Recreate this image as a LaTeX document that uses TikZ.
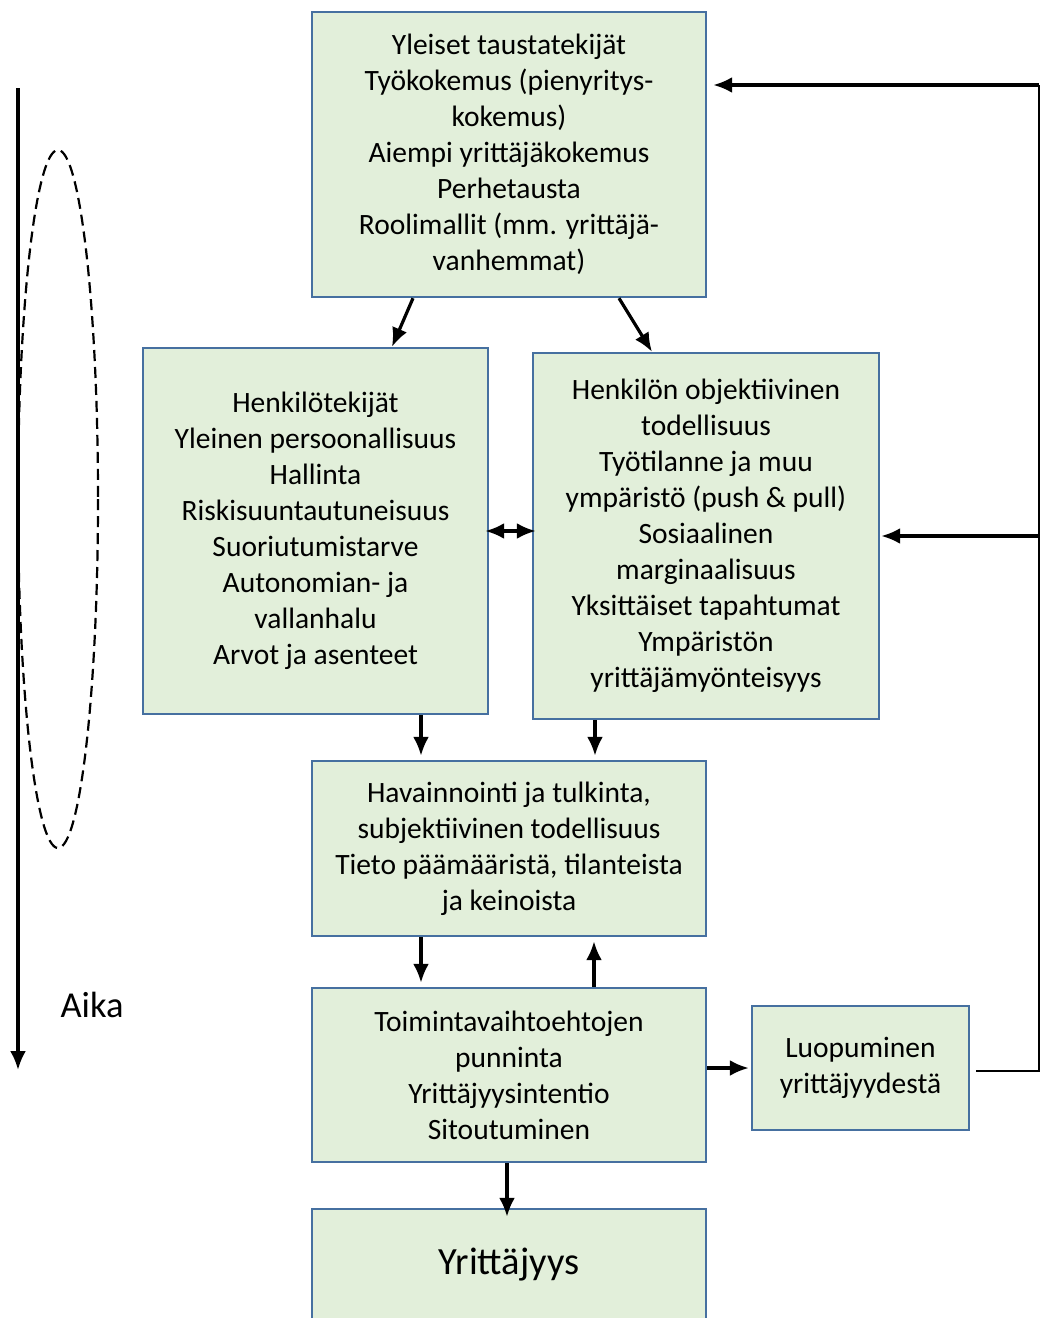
\documentclass[tikz,border=0pt]{standalone}
\usepackage{fontspec}
\setmainfont{Carlito}
\usetikzlibrary{arrows.meta}
\definecolor{boxfill}{RGB}{226,239,218}
\definecolor{boxline}{RGB}{70,112,160}

\begin{document}
\begin{tikzpicture}[x=1pt,y=-1pt,
		box/.style={draw=boxline,fill=boxfill,line width=2.4pt,align=center,inner sep=0pt,
			font=\fontsize{29.5}{36}\selectfont},
		arr/.style={-{Latex[length=19pt,width=16pt]},line width=3.2pt},
		backline/.style={line width=2.2pt}
	]
			\useasboundingbox (0,0) rectangle (1040,1318);
			% boxes
			\node[box,minimum width=394pt,minimum height=285pt] (top) at (509,154.5) {Yleiset taustatekijät\\Työkokemus (pienyritys-\\kokemus)\\Aiempi yrittäjäkokemus\\Perhetausta\\Roolimallit (mm. yrittäjä-\\vanhemmat)};
			\node[box,minimum width=345pt,minimum height=366pt] (pers) at (315.5,531) {Henkilötekijät\\Yleinen persoonallisuus\\Hallinta\\Riskisuuntautuneisuus\\Suoriutumistarve\\Autonomian- ja\\vallanhalu\\Arvot ja asenteet};
			\node[box,minimum width=346pt,minimum height=366pt] (obj) at (706,536) {Henkilön objektiivinen\\todellisuus\\Työtilanne ja muu\\ympäristö (push \& pull)\\Sosiaalinen\\marginaalisuus\\Yksittäiset tapahtumat\\Ympäristön\\yrittäjämyönteisyys};
			\node[box,minimum width=394pt,minimum height=175pt] (perc) at (509,848.5) {Havainnointi ja tulkinta,\\subjektiivinen todellisuus\\Tieto päämääristä, tilanteista\\ja keinoista};
			\node[box,minimum width=394pt,minimum height=174pt] (weigh) at (509,1075) {Toimintavaihtoehtojen\\punninta\\Yrittäjyysintentio\\Sitoutuminen};
			\node[box,minimum width=217pt,minimum height=124pt] (quit) at (860.5,1068) {Luopuminen\\yrittäjyydestä};
			\node[box,minimum width=394pt,minimum height=112pt,font=\fontsize{38.5}{44}\selectfont] (ent) at (509,1265) {Yrittäjyys};
			% time axis
			\coordinate (t0) at (18,88);
			\coordinate (t1) at (18,1070);
			\draw[arr] (t0) -- (t1);
			\draw[line width=2.2pt,dash pattern=on 11pt off 6pt] (58,499) ellipse [x radius=40,y radius=349];
			\node[font=\fontsize{36.5}{42}\selectfont] (aika) at (92,1005) {Aika};
			% arrows between boxes
			\draw[arr] ([xshift=-96pt]top.south) -- ([xshift=76.5pt]pers.north);
			\draw[arr] ([xshift=110pt]top.south) -- ([xshift=-54pt]obj.north);
			\draw[{Latex[length=19pt,width=16pt]}-{Latex[length=19pt,width=16pt]},line width=3.2pt,shorten <=-4pt,shorten >=-4pt] (pers.east) -- (pers.east -| obj.west);
			\draw[arr,shorten >=4pt] ([xshift=-88pt]perc.north |- pers.south) -- ([xshift=-88pt]perc.north);
			\draw[arr,shorten >=4pt] ([xshift=86pt]perc.north |- obj.south) -- ([xshift=86pt]perc.north);
			\draw[arr,shorten >=4pt] ([xshift=-88pt]perc.south) -- ([xshift=-88pt]weigh.north);
			\draw[arr,shorten >=4pt] ([xshift=85pt]weigh.north) -- ([xshift=85pt]perc.south);
			\draw[arr] ([xshift=-2pt]weigh.south) -- ([xshift=-2pt,yshift=-9pt]ent.north);
			\draw[arr,shorten >=2pt] (weigh.east |- quit.west) -- (quit.west);
			% feedback line
			\coordinate (fbtop) at (1039,85);
			\draw[backline] ([xshift=6pt,yshift=-3pt]quit.east) -| (fbtop);
			\draw[arr,shorten >=6pt] (fbtop) -- (fbtop -| top.east);
			\draw[arr,shorten >=1pt] (fbtop |- obj.east) -- (obj.east);
\end{tikzpicture}
\end{document}
